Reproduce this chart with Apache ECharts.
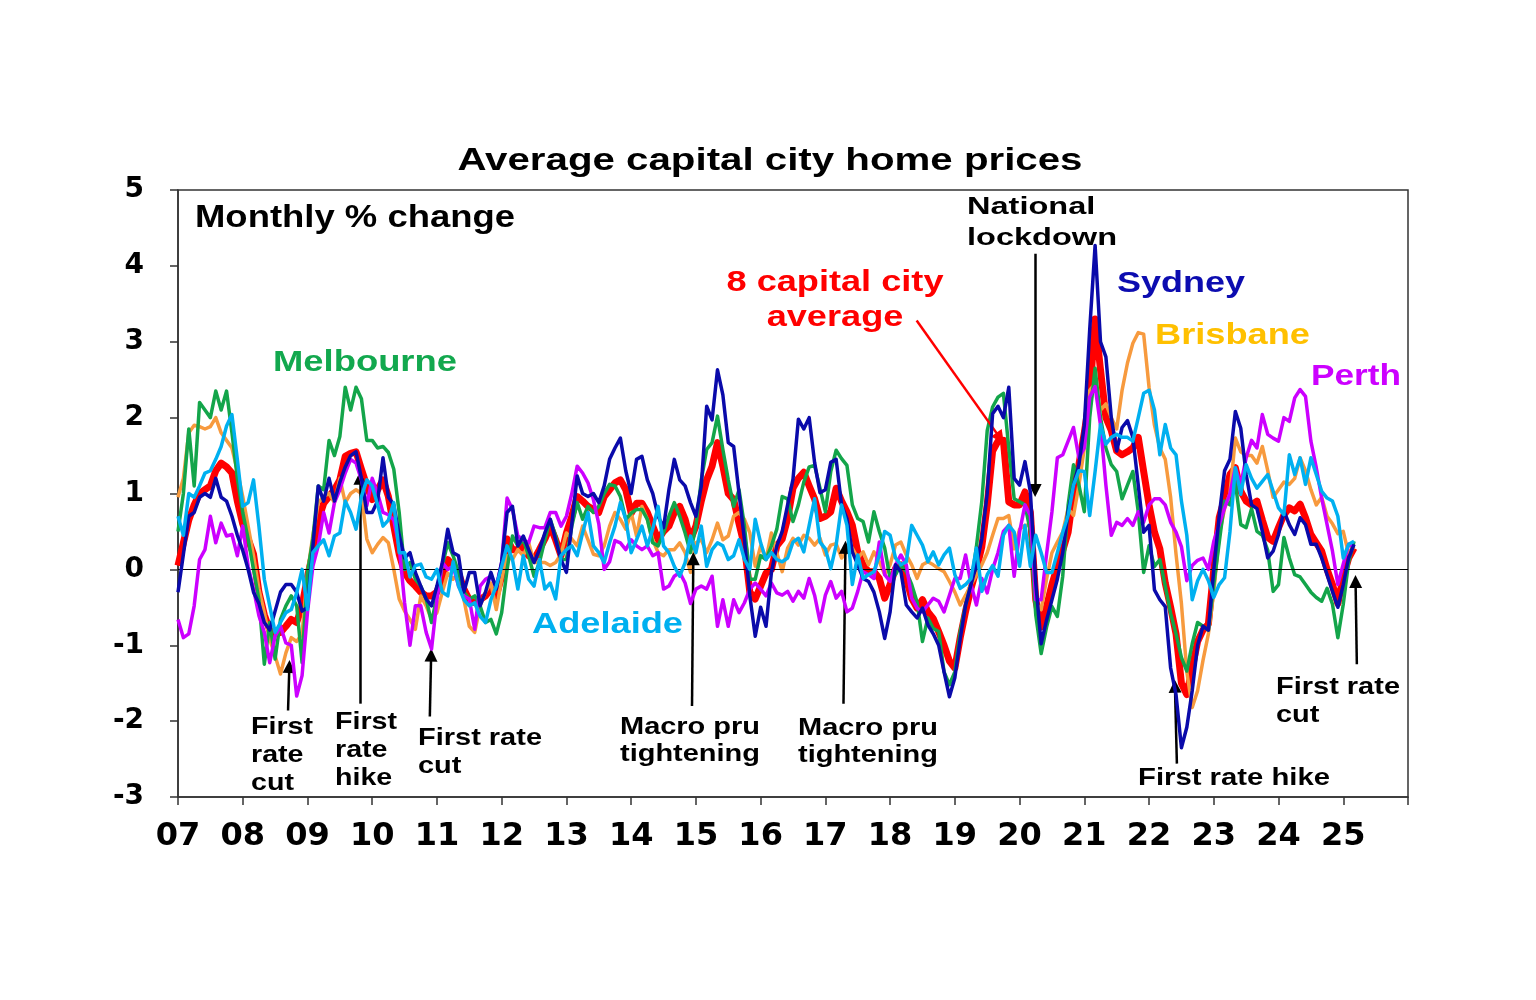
<!DOCTYPE html>
<html><head><meta charset="utf-8">
<script src="https://cdn.jsdelivr.net/npm/echarts@6/dist/echarts.min.js"></script>
<style>html,body{margin:0;padding:0;background:#fff}#c{width:1536px;height:1000px}</style>
</head><body><div id="c"></div>
<script>
// Monthly % change, Jan 2007 .. Mar 2025
const START_YEAR = 2007;
const X_TICKS = [2007, 2026];   // axis range (years)
const Y_RANGE = [-3, 5];

const SYDNEY = [
 -0.3,0.2,0.7,0.75,0.95,1.0,0.95,1.2,0.95,0.9,0.7,0.45,
 0.25,0.0,-0.3,-0.45,-0.7,-0.8,-0.55,-0.3,-0.2,-0.2,-0.3,-0.55,
 -0.5,0.3,1.1,0.9,1.2,0.9,1.15,1.35,1.5,1.55,1.2,0.75,
 0.75,0.9,1.47,0.95,0.85,0.45,0.15,0.22,-0.04,-0.22,-0.39,-0.48,
 -0.22,0.09,0.53,0.22,0.18,-0.3,-0.04,-0.04,-0.48,-0.3,-0.04,-0.26,
 0.1,0.75,0.83,0.31,0.44,0.26,0.09,0.26,0.48,0.66,0.39,0.13,
 -0.04,0.6,1.23,1.0,0.96,1.0,0.88,1.1,1.45,1.6,1.73,1.3,
 1.0,1.45,1.49,1.18,1.0,0.7,0.55,1.05,1.45,1.18,1.1,0.88,
 0.7,1.1,2.15,1.97,2.63,2.3,1.67,1.62,1.0,0.39,-0.35,-0.88,
 -0.5,-0.75,-0.04,0.31,0.5,0.85,1.19,1.98,1.85,2.0,1.41,1.01,
 1.05,1.41,1.45,0.85,0.67,0.23,0.06,-0.12,-0.16,-0.3,-0.56,-0.91,
 -0.56,0.06,-0.03,-0.47,-0.56,-0.64,-0.51,-0.73,-0.85,-1.0,-1.35,-1.68,
 -1.43,-0.91,-0.47,-0.2,0.06,0.4,1.0,2.05,2.15,2.0,2.4,1.2,
 1.11,1.42,1.02,-0.18,-0.98,-0.67,-0.4,-0.13,0.22,0.76,1.11,1.38,
 1.9,3.16,4.27,3.0,2.8,2.0,1.56,1.87,1.96,1.74,1.11,0.49,
 0.58,-0.27,-0.4,-0.49,-1.3,-1.65,-2.35,-2.08,-1.6,-1.0,-0.75,-0.8,
 0.0,0.7,1.3,1.45,2.08,1.86,1.25,0.85,0.8,0.5,0.15,0.24,
 0.46,0.77,0.59,0.46,0.68,0.59,0.33,0.33,0.15,-0.07,-0.29,-0.5,
 -0.2,0.15,0.33
];
const MELBOURNE = [
 0.5,1.0,1.85,1.1,2.2,2.1,2.0,2.35,2.1,2.35,1.8,1.2,
 0.75,0.4,0.0,-0.4,-1.25,-0.7,-1.18,-0.66,-0.48,-0.35,-0.48,-1.23,
 -0.04,0.4,1.1,1.05,1.7,1.5,1.75,2.4,2.1,2.4,2.25,1.7,
 1.7,1.6,1.62,1.54,1.32,0.75,0.0,0.09,-0.13,-0.22,-0.39,-0.7,
 -0.35,0.05,0.35,0.18,-0.04,-0.3,-0.39,-0.35,-0.48,-0.7,-0.66,-0.85,
 -0.57,0.0,0.44,0.31,0.39,0.18,-0.09,0.09,0.39,0.66,0.44,0.13,
 0.13,0.57,0.88,0.66,0.83,0.75,0.83,1.0,1.12,1.1,0.96,0.66,
 0.74,0.79,0.79,0.66,0.35,0.31,0.48,0.7,0.88,0.7,0.48,0.22,
 0.57,1.18,1.58,1.67,2.02,1.58,1.18,0.83,1.05,0.57,-0.13,-0.13,
 0.18,0.13,0.31,0.53,0.96,0.93,0.63,0.85,1.15,1.35,1.37,1.07,
 0.76,1.29,1.57,1.46,1.37,0.85,0.67,0.63,0.36,0.76,0.5,0.28,
 -0.12,-0.07,0.06,-0.03,-0.2,-0.43,-0.95,-0.64,-0.78,-0.82,-1.35,-1.52,
 -1.35,-0.82,-0.47,-0.2,0.3,0.9,1.83,2.14,2.27,2.32,1.6,0.93,
 0.89,0.85,0.5,-0.6,-1.11,-0.76,-0.49,-0.62,-0.09,0.85,1.38,1.11,
 0.76,2.0,2.65,2.0,1.6,1.38,1.29,0.93,1.11,1.29,0.76,-0.04,
 0.31,0.04,0.13,-0.22,-0.58,-0.85,-1.16,-1.34,-0.98,-0.7,-0.75,-0.8,
 -0.2,0.35,0.9,0.85,1.14,0.59,0.55,0.8,0.5,0.45,0.25,-0.29,
 -0.2,0.42,0.15,-0.07,-0.1,-0.2,-0.3,-0.37,-0.42,-0.25,-0.46,-0.9,
 -0.46,0.1,0.37
];
const BRISBANE = [
 0.95,1.2,1.8,1.9,1.88,1.85,1.88,2.0,1.8,1.7,1.6,1.3,
 0.96,0.57,0.18,-0.26,-0.57,-0.92,-1.14,-1.38,-1.1,-0.9,-0.95,-0.85,
 -0.05,0.45,0.88,0.96,1.0,0.88,1.2,0.88,1.0,1.05,1.0,0.4,
 0.22,0.33,0.42,0.35,0.0,-0.39,-0.55,-0.66,-0.79,-0.35,-0.48,-0.66,
 -0.57,-0.3,-0.05,-0.13,-0.04,-0.4,-0.75,-0.83,-0.48,-0.3,-0.18,-0.53,
 -0.13,0.18,0.13,0.26,0.18,0.35,0.09,0.09,0.09,0.05,0.09,0.2,
 0.48,0.4,0.31,0.57,0.39,0.2,0.18,0.31,0.57,0.75,0.66,0.53,
 0.75,0.44,0.83,0.66,0.39,0.22,0.18,0.26,0.26,0.35,0.22,-0.04,
 0.35,0.39,0.22,0.39,0.61,0.39,0.44,0.7,0.75,0.66,0.48,0.04,
 0.31,0.13,0.48,0.22,-0.03,0.28,0.41,0.32,0.45,0.41,0.32,0.41,
 0.19,0.32,0.34,0.15,0.23,0.28,0.15,0.23,0.06,0.23,0.1,-0.07,
 0.06,0.32,0.36,0.19,0.06,-0.12,0.06,0.1,0.06,0.01,-0.03,-0.16,
 -0.3,-0.47,-0.34,-0.2,-0.08,0.06,0.22,0.45,0.67,0.67,0.71,0.27,
 0.53,0.58,0.58,-0.45,-0.53,-0.13,0.22,0.36,0.49,0.8,0.71,1.11,
 1.6,2.36,2.45,2.1,2.18,2.0,1.85,2.36,2.72,2.98,3.12,3.1,
 2.4,1.9,1.6,1.45,0.95,0.2,-0.45,-1.35,-1.82,-1.6,-1.2,-0.85,
 -0.3,0.45,0.8,1.0,1.73,1.55,1.5,1.5,1.4,1.62,1.3,0.95,
 1.05,1.15,1.12,1.2,1.47,1.3,1.05,0.85,0.95,0.7,0.6,0.47,
 0.5,0.2,0.3
];
const ADELAIDE = [
 0.7,0.45,1.0,0.95,1.1,1.27,1.3,1.45,1.62,1.89,2.04,1.45,
 0.83,0.88,1.18,0.57,-0.13,-0.48,-0.83,-0.7,-0.57,-0.53,-0.31,0.0,
 -0.53,0.22,0.31,0.39,0.18,0.44,0.48,0.9,0.75,0.53,0.96,1.18,
 1.1,0.85,0.57,0.65,0.88,0.22,0.22,-0.1,0.05,0.07,-0.1,-0.13,
 0.0,-0.3,-0.35,0.1,-0.22,-0.4,-0.48,-0.44,-0.62,-0.7,-0.4,-0.22,
 0.04,0.31,0.13,-0.26,0.18,-0.13,-0.22,0.13,-0.26,-0.18,-0.39,0.18,
 0.26,0.31,0.18,0.48,0.75,0.31,0.22,0.09,0.35,0.57,0.88,0.66,
 0.22,0.39,0.57,0.31,0.53,0.83,0.31,0.22,0.04,-0.09,0.09,0.44,
 0.22,0.57,0.04,0.26,0.35,0.31,0.13,0.18,0.39,0.13,0.0,0.66,
 0.35,0.13,0.22,0.13,0.1,0.15,0.36,0.41,0.23,0.58,0.93,0.36,
 0.27,0.01,0.32,0.85,0.58,-0.2,0.19,-0.12,-0.07,-0.03,0.19,0.5,
 0.45,0.15,0.06,0.1,0.58,0.45,0.32,0.1,0.23,0.06,0.19,0.28,
 -0.07,-0.25,-0.2,-0.12,0.28,-0.29,-0.07,0.05,-0.09,0.45,0.58,0.49,
 0.04,0.58,0.04,0.45,0.22,-0.04,-0.04,0.22,0.49,0.71,1.11,1.3,
 1.29,0.71,1.29,1.91,1.65,1.74,1.78,1.74,1.74,1.69,2.0,2.32,
 2.36,2.1,1.51,1.91,1.6,1.51,0.9,0.45,-0.4,-0.15,0.0,-0.15,
 -0.37,-0.2,-0.11,0.5,1.34,0.99,1.38,1.2,1.07,1.16,1.25,1.03,
 0.81,0.72,1.51,1.25,1.47,1.12,1.47,1.25,1.03,0.94,0.9,0.7,
 0.15,0.33,0.37
];
const PERTH = [
 -0.66,-0.9,-0.85,-0.48,0.13,0.26,0.7,0.35,0.61,0.44,0.46,0.18,
 0.57,0.04,-0.26,-0.61,-0.83,-1.23,-0.88,-0.75,-0.97,-1.0,-1.67,-1.4,
 -0.57,0.04,0.31,0.75,0.48,0.88,1.05,1.27,1.45,1.4,1.18,0.84,
 1.2,1.0,0.75,0.72,0.65,0.3,-0.44,-1.0,-0.48,-0.48,-0.83,-1.05,
 -0.4,0.09,0.0,0.04,-0.22,-0.35,-0.39,-0.79,-0.22,-0.13,-0.09,-0.22,
 0.09,0.94,0.79,0.44,0.39,0.35,0.57,0.55,0.55,0.75,0.75,0.57,
 0.7,1.0,1.36,1.27,1.14,0.92,0.6,0.0,0.1,0.38,0.35,0.26,
 0.39,0.31,0.26,0.31,0.18,0.22,-0.26,-0.22,-0.09,-0.04,-0.18,-0.45,
 -0.26,-0.22,-0.26,-0.09,-0.75,-0.4,-0.75,-0.4,-0.57,-0.44,-0.26,-0.18,
 -0.26,-0.35,-0.18,-0.31,-0.34,-0.29,-0.42,-0.29,-0.38,-0.12,-0.34,-0.69,
 -0.34,-0.16,-0.38,-0.29,-0.56,-0.51,-0.29,-0.03,-0.07,-0.12,0.36,-0.07,
 -0.16,0.06,0.19,0.06,-0.38,-0.51,-0.56,-0.47,-0.38,-0.42,-0.56,-0.34,
 -0.12,-0.12,0.19,-0.2,-0.47,-0.12,-0.31,0.0,0.22,0.5,0.58,-0.09,
 0.49,0.85,0.71,-0.4,-0.4,0.2,0.76,1.47,1.51,1.69,1.87,1.47,
 1.6,2.27,2.41,1.9,1.11,0.45,0.62,0.58,0.67,0.58,0.76,0.62,
 0.85,0.93,0.93,0.85,0.62,0.49,0.3,-0.15,0.05,0.12,0.15,0.0,
 0.37,0.59,0.81,1.0,1.34,1.12,1.47,1.7,1.6,2.04,1.78,1.73,
 1.69,2.0,1.95,2.26,2.37,2.28,1.69,1.34,0.94,0.59,0.24,-0.2,
 0.07,0.33,0.3
];
const CAPITAL_AVG = [
 0.05,0.35,0.65,0.85,1.0,1.05,1.1,1.3,1.4,1.35,1.27,0.9,
 0.6,0.4,0.2,-0.3,-0.6,-0.8,-0.85,-0.83,-0.75,-0.66,-0.7,-0.48,
 -0.1,0.22,0.65,0.87,0.96,1.05,1.18,1.49,1.53,1.55,1.32,1.1,
 0.92,1.05,1.18,0.96,0.57,0.2,-0.04,-0.15,-0.22,-0.3,-0.35,-0.35,
 -0.3,-0.1,0.13,0.05,-0.05,-0.26,-0.4,-0.44,-0.4,-0.35,-0.26,-0.35,
 -0.09,0.4,0.26,0.26,0.31,0.18,0.13,0.26,0.4,0.57,0.39,0.18,
 0.48,0.7,0.96,0.9,0.83,0.79,0.75,0.96,1.05,1.14,1.18,1.05,
 0.74,0.87,0.87,0.75,0.57,0.39,0.5,0.57,0.75,0.83,0.66,0.39,
 0.57,0.9,1.18,1.36,1.67,1.36,1.0,0.92,0.6,0.31,-0.3,-0.39,
 -0.22,-0.05,0.0,0.31,0.4,0.67,1.07,1.2,1.28,1.1,0.93,0.67,
 0.7,0.76,1.07,0.9,0.76,0.58,0.23,0.06,-0.03,-0.03,-0.12,-0.38,
 -0.2,0.01,0.06,-0.12,-0.38,-0.51,-0.4,-0.56,-0.65,-0.82,-1.0,-1.21,
 -1.3,-0.9,-0.55,-0.25,0.0,0.3,0.85,1.56,1.69,1.7,0.89,0.85,
 0.85,1.02,0.75,-0.4,-0.76,-0.49,-0.2,0.04,0.25,0.49,1.02,1.38,
 1.8,2.27,3.3,2.63,2.0,1.83,1.56,1.51,1.55,1.6,1.74,1.29,
 0.85,0.49,0.27,-0.18,-0.5,-0.85,-1.5,-1.65,-1.3,-0.95,-0.8,-0.72,
 0.0,0.68,0.94,1.25,1.34,1.03,0.9,0.85,0.9,0.65,0.42,0.37,
 0.55,0.72,0.81,0.77,0.86,0.68,0.46,0.35,0.24,0.0,-0.2,-0.45,
 -0.1,0.15,0.28
];

// Annotation arrows in data coordinates [year, % change]
const ARROWS = [
 {from:[2008.70,-1.86], to:[2008.72,-1.28]},
 {from:[2009.81,-1.77], to:[2009.81,1.20]},
 {from:[2010.89,-1.94], to:[2010.91,-1.13]},
 {from:[2014.94,-1.80], to:[2014.96,0.14]},
 {from:[2017.28,-1.77], to:[2017.31,0.29]},
 {from:[2020.24,4.16], to:[2020.24,1.04]},
 {from:[2022.43,-2.56], to:[2022.40,-1.54]},
 {from:[2025.21,-1.25], to:[2025.19,-0.16]}
];
const RED_ARROW = {from:[2018.41,3.28], to:[2019.70,1.73]};

const FONT_FAMILY = '"Liberation Sans", Arial, sans-serif';
const AXIS_FONT = '"DejaVu Sans", sans-serif';

// text blocks: lines, x (left or centre), centre y of each line, font px, colour, target width of widest line
const TEXTS = [
 {lines:['Average capital city home prices'], x:770, ys:[161], size:31, color:'#000', w:625, align:'center'},
 {lines:['Monthly % change'], x:195, ys:[218], size:31, color:'#000', w:320},
 {lines:['Melbourne'], x:273, ys:[363], size:30, color:'#12A84E', w:184},
 {lines:['Adelaide'], x:532, ys:[625], size:30, color:'#00B0F0', w:151},
 {lines:['Sydney'], x:1117, ys:[284], size:30, color:'#0C0CB0', w:128},
 {lines:['Brisbane'], x:1155, ys:[336], size:30, color:'#FFC000', w:155},
 {lines:['Perth'], x:1311, ys:[377], size:30, color:'#CC00FF', w:90},
 {lines:['8 capital city','average'], x:835, ys:[283,318], size:30, color:'#FF0000', w:217, align:'center'},
 {lines:['National','lockdown'], x:967, ys:[207,238], size:24, color:'#000', w:150},
 {lines:['First','rate','cut'], x:251, ys:[727,755,783], size:24, color:'#000', w:62},
 {lines:['First','rate','hike'], x:335, ys:[722,750,778], size:24, color:'#000', w:62},
 {lines:['First rate','cut'], x:418, ys:[738,766], size:24, color:'#000', w:124},
 {lines:['Macro pru','tightening'], x:620, ys:[727,754], size:24, color:'#000', w:140},
 {lines:['Macro pru','tightening'], x:798, ys:[728,755], size:24, color:'#000', w:140},
 {lines:['First rate hike'], x:1138, ys:[778], size:24, color:'#000', w:192},
 {lines:['First rate','cut'], x:1276, ys:[687,715], size:24, color:'#000', w:124}
];

const ctx = document.createElement('canvas').getContext('2d');
function textWidth(t, font){ ctx.font = font; return ctx.measureText(t).width; }

const graphics = [];
TEXTS.forEach(b => {
  const font = 'bold ' + b.size + 'px ' + FONT_FAMILY;
  const nat = Math.max.apply(null, b.lines.map(l => textWidth(l, font)));
  const sx = b.w / nat;
  b.lines.forEach((l, k) => {
    graphics.push({
      type:'text', x:b.x, y:b.ys[k], scaleX:sx, scaleY:1, z:100,
      style:{text:l, font:font, fill:b.color, textAlign:b.align || 'left', textVerticalAlign:'middle'}
    });
  });
});

const toPts = arr => arr.map((v, i) => [START_YEAR + i / 12, v]);
function lineSeries(name, data, color, width, z){
  return {name, type:'line', data:toPts(data), showSymbol:false, symbol:'none', z,
    lineStyle:{color, width, join:'round'}, itemStyle:{color}, emphasis:{disabled:true}, animation:false};
}
function arrowSeries(list, color){
  return {type:'line', data:[], z:20, silent:true,
    markLine:{silent:true, symbol:['none','triangle'], symbolSize:13, label:{show:false}, animation:false,
      lineStyle:{color:color, width:2.5, type:'solid'}, itemStyle:{color:color},
      data: list.map(a => [{coord:a.from}, {coord:a.to}])}};
}

const chart = echarts.init(document.getElementById('c'), null, {renderer:'canvas'});
chart.setOption({
  animation:false,
  backgroundColor:'#fff',
  grid:{left:178, right:128, top:190, bottom:203, show:true, borderColor:'#333', borderWidth:1.5, backgroundColor:'transparent'},
  xAxis:{type:'value', min:X_TICKS[0], max:X_TICKS[1], interval:1,
    axisLine:{show:true, onZero:false, lineStyle:{color:'#333', width:1.5}},
    axisTick:{show:true, length:8, lineStyle:{color:'#333', width:1.5}},
    splitLine:{show:false},
    axisLabel:{margin:24, color:'#000', fontFamily:AXIS_FONT, fontWeight:'bold', fontSize:32,
      formatter: v => v >= X_TICKS[1] ? '' : String(v).slice(2)}},
  yAxis:{type:'value', min:Y_RANGE[0], max:Y_RANGE[1], interval:1,
    axisLine:{show:true, onZero:false, lineStyle:{color:'#333', width:1.5}},
    axisTick:{show:true, length:8, lineStyle:{color:'#333', width:1.5}},
    splitLine:{show:false},
    axisLabel:{margin:34, color:'#000', fontFamily:AXIS_FONT, fontWeight:'bold', fontSize:28}},
  series:[
    {type:'line', data:[], z:1, silent:true,
      markLine:{silent:true, symbol:['none','none'], label:{show:false}, animation:false,
        lineStyle:{color:'#000', width:1.2, type:'solid'}, data:[{yAxis:0}]}},
    lineSeries('8 capital city average', CAPITAL_AVG, '#FF0000', 7, 2),
    lineSeries('Brisbane', BRISBANE, '#F79A3E', 3.5, 3),
    lineSeries('Melbourne', MELBOURNE, '#13A54A', 3.5, 4),
    lineSeries('Perth', PERTH, '#CC00FF', 3.5, 5),
    lineSeries('Sydney', SYDNEY, '#0A0AAA', 3.5, 6),
    lineSeries('Adelaide', ADELAIDE, '#00B0F0', 3.5, 7),
    arrowSeries(ARROWS, '#000'),
    arrowSeries([RED_ARROW], '#FF0000')
  ],
  graphic: graphics
});
</script></body></html>
